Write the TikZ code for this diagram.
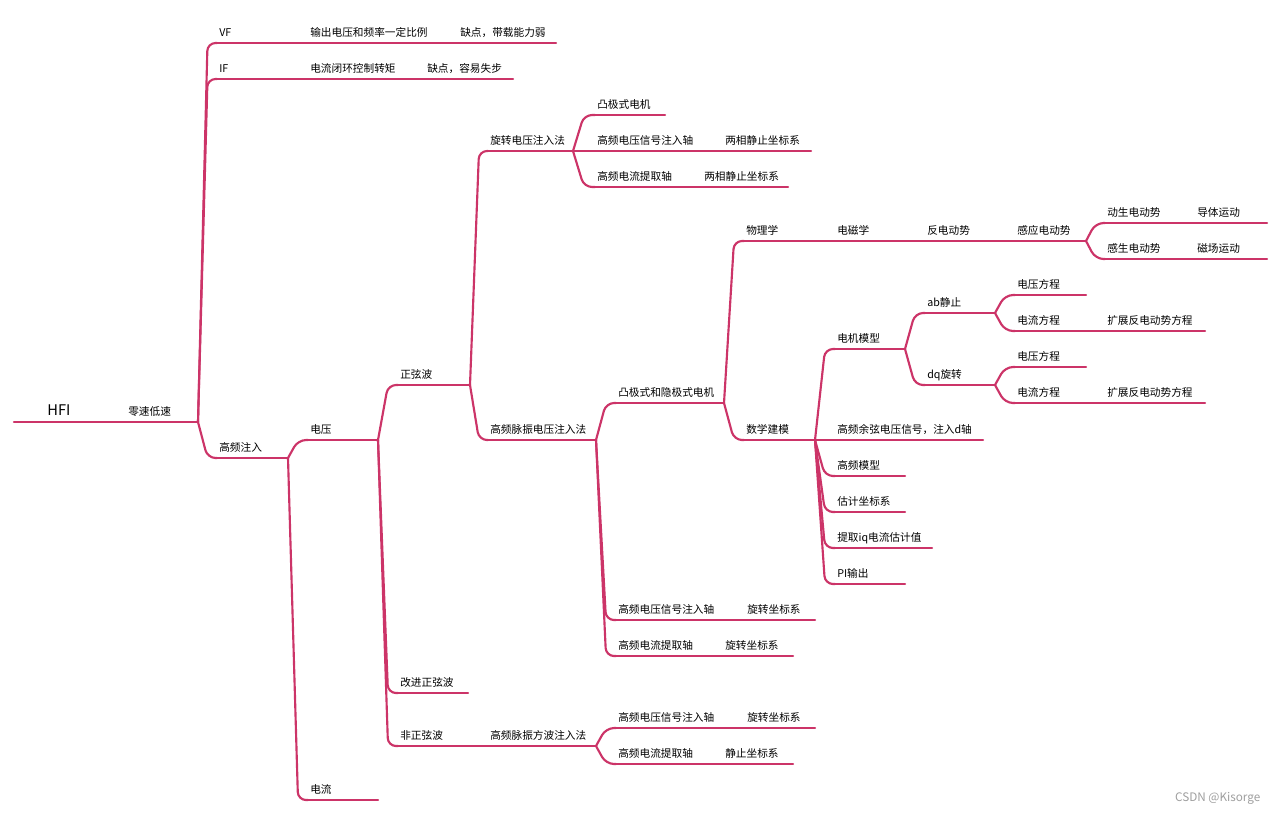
\documentclass[tikz,border=0pt]{standalone}
\usepackage{fontspec}
\newfontfamily\cjk{Noto Sans CJK SC}
\usepackage{tikz}
\usetikzlibrary{calc}
\definecolor{hfired}{HTML}{CC3468}

\newcommand{\twig}[2]{%
\draw[branch] let \p1=(#1), \p2=(#2) in (\p1) -- ({\x1+0.5*(\x2-\x1)},\y2) -- (\p2);}

\begin{document}
\begin{tikzpicture}[
    x=0.75pt, y=-0.75pt,
    font=\cjk\fontsize{8.0}{10}\selectfont,
    topic/.style={
        anchor=south west,
        inner xsep=1.5pt,
        inner ysep=3.2pt,
        text height=0.8em,
        text depth=0.15em
    },
    rootnode/.style={
        font=\cjk\fontsize{11}{13}\selectfont
    },
    branch/.style={
        draw=hfired,
        line width=1.6pt,
        line cap=round,
        rounded corners=6pt
    },
    wmark/.style={
        anchor=east,
        text=gray!75,
        font=\cjk\fontsize{8.8}{10}\selectfont
    }
]
\useasboundingbox[fill=white] (0,0) rectangle (1280,815);

% root
\node[rootnode] (hfi) at (59,410) {HFI};
\node[topic] (slow) at (126,422) {零速低速};
\coordinate (hfiL) at (14,422);
\coordinate (slowE) at (198,422);
\draw[branch] (hfiL) -- (slowE);

% VF / IF / high frequency injection
\node[topic] (vf) at (217,43) {VF};
\node[topic] (vf1) at (308,43) {输出电压和频率一定比例};
\node[topic] (vf2) at (458,43) {缺点，带载能力弱};
\coordinate (vfE) at (556,43);
\node[topic] (if) at (217,79) {IF};
\node[topic] (if1) at (308,79) {电流闭环控制转矩};
\node[topic] (if2) at (425,79) {缺点，容易失步};
\coordinate (ifE) at (513,79);
\node[topic] (hf) at (217,458) {高频注入};
\coordinate (hfE) at (288,458);
\draw[branch] (vf.south west) -- (vfE);
\draw[branch] (if.south west) -- (ifE);
\draw[branch] (hf.south west) -- (hfE);
\twig{slowE}{vf.south west}
\twig{slowE}{if.south west}
\twig{slowE}{hf.south west}

% voltage / current
\node[topic] (volt) at (308,440) {电压};
\coordinate (voltE) at (378,440);
\node[topic] (curr) at (308,800) {电流};
\coordinate (currE) at (378,800);
\draw[branch] (volt.south west) -- (voltE);
\draw[branch] (curr.south west) -- (currE);
\twig{hfE}{volt.south west}
\twig{hfE}{curr.south west}

% wave forms
\node[topic] (sine) at (398,385) {正弦波};
\coordinate (sineE) at (470,385);
\node[topic] (msine) at (398,693) {改进正弦波};
\coordinate (msineE) at (468,693);
\node[topic] (nsine) at (398,746) {非正弦波};
\node[topic] (nsine1) at (488,746) {高频脉振方波注入法};
\coordinate (nsineE) at (596,746);
\draw[branch] (sine.south west) -- (sineE);
\draw[branch] (msine.south west) -- (msineE);
\draw[branch] (nsine.south west) -- (nsineE);
\twig{voltE}{sine.south west}
\twig{voltE}{msine.south west}
\twig{voltE}{nsine.south west}

% sine wave methods
\node[topic] (rot) at (488,151) {旋转电压注入法};
\coordinate (rotE) at (573,151);
\node[topic] (puls) at (488,440) {高频脉振电压注入法};
\coordinate (pulsE) at (596,440);
\draw[branch] (rot.south west) -- (rotE);
\draw[branch] (puls.south west) -- (pulsE);
\twig{sineE}{rot.south west}
\twig{sineE}{puls.south west}

% rotating voltage injection
\node[topic] (rot1) at (595,115) {凸极式电机};
\coordinate (rot1E) at (665,115);
\node[topic] (rot2) at (595,151) {高频电压信号注入轴};
\node[topic] (rot2b) at (723,151) {两相静止坐标系};
\coordinate (rot2E) at (811,151);
\node[topic] (rot3) at (595,187) {高频电流提取轴};
\node[topic] (rot3b) at (702,187) {两相静止坐标系};
\coordinate (rot3E) at (788,187);
\draw[branch] (rot1.south west) -- (rot1E);
\draw[branch] (rot2.south west) -- (rot2E);
\draw[branch] (rot3.south west) -- (rot3E);
\twig{rotE}{rot1.south west}
\twig{rotE}{rot2.south west}
\twig{rotE}{rot3.south west}

% pulsating voltage injection
\node[topic] (mot) at (616,403) {凸极式和隐极式电机};
\coordinate (motE) at (724,403);
\node[topic] (pv) at (616,620) {高频电压信号注入轴};
\node[topic] (pvb) at (745,620) {旋转坐标系};
\coordinate (pvE) at (815,620);
\node[topic] (pc) at (616,656) {高频电流提取轴};
\node[topic] (pcb) at (723,656) {旋转坐标系};
\coordinate (pcE) at (793,656);
\draw[branch] (mot.south west) -- (motE);
\draw[branch] (pv.south west) -- (pvE);
\draw[branch] (pc.south west) -- (pcE);
\twig{pulsE}{mot.south west}
\twig{pulsE}{pv.south west}
\twig{pulsE}{pc.south west}

% square wave injection
\node[topic] (sv) at (616,728) {高频电压信号注入轴};
\node[topic] (svb) at (745,728) {旋转坐标系};
\coordinate (svE) at (815,728);
\node[topic] (sc) at (616,764) {高频电流提取轴};
\node[topic] (scb) at (723,764) {静止坐标系};
\coordinate (scE) at (793,764);
\draw[branch] (sv.south west) -- (svE);
\draw[branch] (sc.south west) -- (scE);
\twig{nsineE}{sv.south west}
\twig{nsineE}{sc.south west}

% physics / modelling
\node[topic] (phy) at (744,241) {物理学};
\node[topic] (phyb) at (835,241) {电磁学};
\node[topic] (phyc) at (925,241) {反电动势};
\node[topic] (phyd) at (1015,241) {感应电动势};
\coordinate (phyE) at (1086,241);
\node[topic] (math) at (744,440) {数学建模};
\coordinate (mathE) at (815,440);
\draw[branch] (phy.south west) -- (phyE);
\draw[branch] (math.south west) -- (mathE);
\twig{motE}{phy.south west}
\twig{motE}{math.south west}

\node[topic] (emf1) at (1105,223) {动生电动势};
\node[topic] (emf1b) at (1195,223) {导体运动};
\coordinate (emf1E) at (1267,223);
\node[topic] (emf2) at (1105,259) {感生电动势};
\node[topic] (emf2b) at (1195,259) {磁场运动};
\coordinate (emf2E) at (1267,259);
\draw[branch] (emf1.south west) -- (emf1E);
\draw[branch] (emf2.south west) -- (emf2E);
\twig{phyE}{emf1.south west}
\twig{phyE}{emf2.south west}

% mathematical model
\node[topic] (model) at (835,349) {电机模型};
\coordinate (modelE) at (905,349);
\node[topic] (cosv) at (835,440) {高频余弦电压信号，注入d轴};
\coordinate (cosvE) at (983,440);
\node[topic] (hfm) at (835,476) {高频模型};
\coordinate (hfmE) at (905,476);
\node[topic] (est) at (835,512) {估计坐标系};
\coordinate (estE) at (905,512);
\node[topic] (iq) at (835,548) {提取iq电流估计值};
\coordinate (iqE) at (932,548);
\node[topic] (pi) at (835,584) {PI输出};
\coordinate (piE) at (905,584);
\foreach \nd in {model,cosv,hfm,est,iq,pi}{
    \draw[branch] (\nd.south west) -- (\nd E);
    \twig{mathE}{\nd.south west}
}

\node[topic] (ab) at (925,313) {ab静止};
\coordinate (abE) at (995,313);
\node[topic] (dq) at (925,385) {dq旋转};
\coordinate (dqE) at (995,385);
\draw[branch] (ab.south west) -- (abE);
\draw[branch] (dq.south west) -- (dqE);
\twig{modelE}{ab.south west}
\twig{modelE}{dq.south west}

\node[topic] (abv) at (1015,295) {电压方程};
\coordinate (abvE) at (1086,295);
\node[topic] (abc) at (1015,331) {电流方程};
\node[topic] (abcb) at (1105,331) {扩展反电动势方程};
\coordinate (abcE) at (1205,331);
\node[topic] (dqv) at (1015,367) {电压方程};
\coordinate (dqvE) at (1086,367);
\node[topic] (dqc) at (1015,403) {电流方程};
\node[topic] (dqcb) at (1105,403) {扩展反电动势方程};
\coordinate (dqcE) at (1205,403);
\draw[branch] (abv.south west) -- (abvE);
\draw[branch] (abc.south west) -- (abcE);
\draw[branch] (dqv.south west) -- (dqvE);
\draw[branch] (dqc.south west) -- (dqcE);
\twig{abE}{abv.south west}
\twig{abE}{abc.south west}
\twig{dqE}{dqv.south west}
\twig{dqE}{dqc.south west}

\node[wmark] (csdn) at (1265,798) {CSDN @Kisorge};

\end{tikzpicture}
\end{document}
